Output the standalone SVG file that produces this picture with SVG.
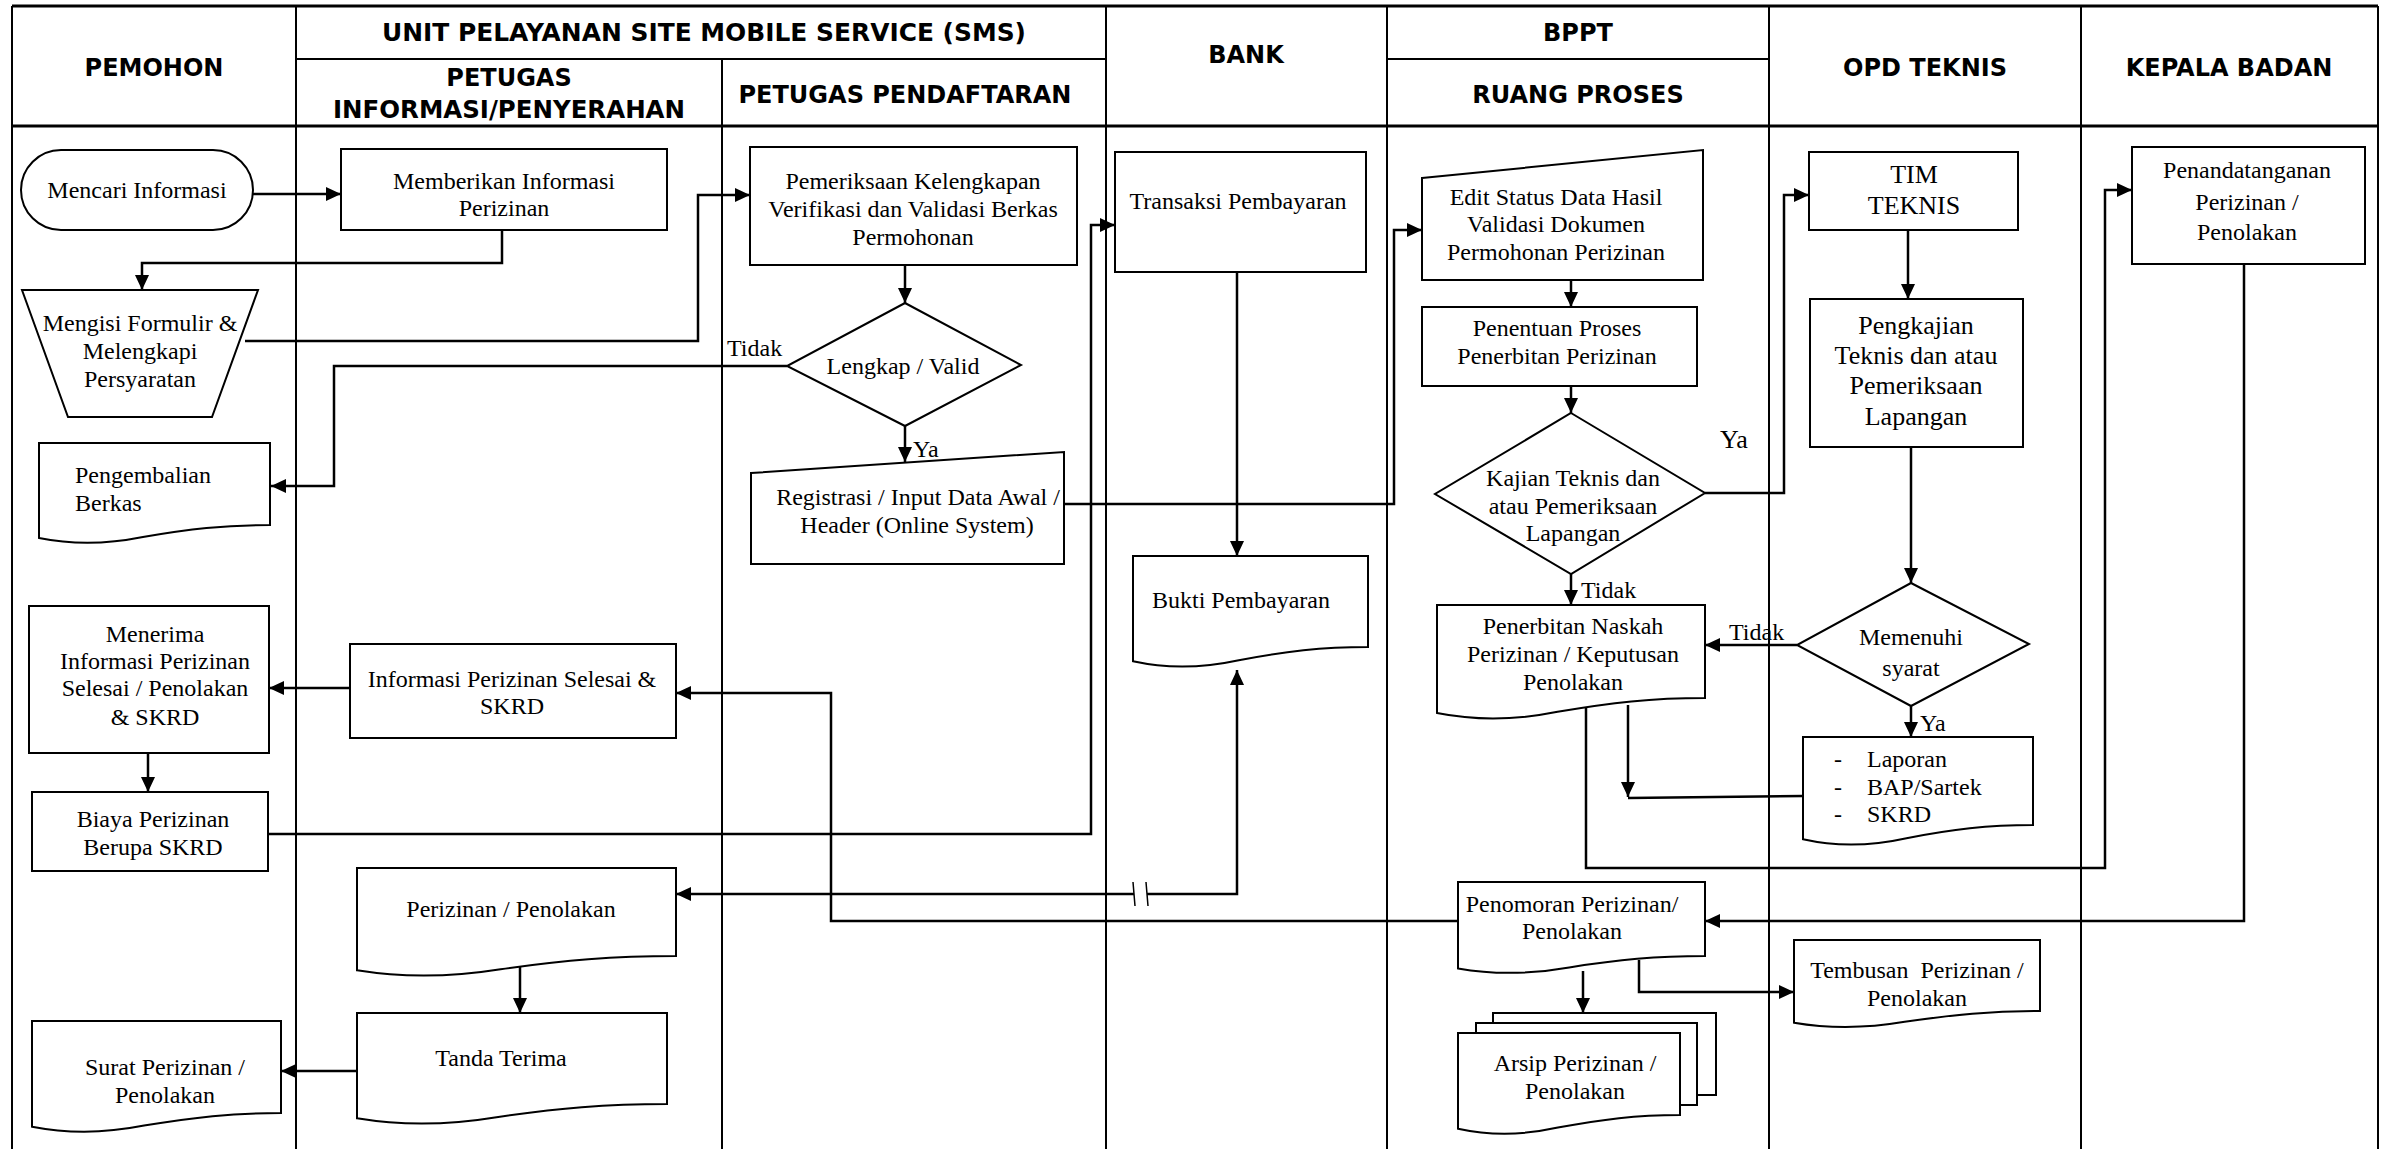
<svg xmlns="http://www.w3.org/2000/svg" width="2389" height="1149" viewBox="0 0 2389 1149">
<style>
.bg{fill:#fff}
.lane{stroke:#000;stroke-width:2;fill:none}
.hl{stroke:#000;stroke-width:3;fill:none}
.h{font-family:"DejaVu Sans",Verdana,sans-serif;font-weight:bold;font-size:24px;text-anchor:middle;fill:#000}
.t{font-family:"Liberation Serif","Times New Roman",serif;font-size:24px;text-anchor:middle;fill:#000}
.tl{font-family:"Liberation Serif","Times New Roman",serif;font-size:24px;text-anchor:start;fill:#000}
.big{font-size:26px}
.s{fill:#fff;stroke:#000;stroke-width:2}
.c{fill:none;stroke:#000;stroke-width:2.5;marker-end:url(#ah)}
.cn{fill:none;stroke:#000;stroke-width:2.5}
.tick{fill:none;stroke:#000;stroke-width:1.5}
</style>
<defs>
<marker id="ah" markerUnits="userSpaceOnUse" markerWidth="16" markerHeight="14" refX="15" refY="7" orient="auto">
<path d="M0,0 L15,7 L0,14 Z" fill="#000"/>
</marker>
</defs>
<rect class="bg" x="0" y="0" width="2389" height="1149"/>

<g id="lanes">
<path class="hl" d="M12,6 H2378"/>
<path class="lane" d="M12,6 V1149 M296,6 V1149 M1106,6 V1149 M1387,6 V1149 M1769,6 V1149 M2081,6 V1149 M2378,6 V1149 M722,59 V1149"/>
<path class="lane" d="M296,59 H1106 M1387,59 H1769"/>
<path class="hl" d="M12,126 H2378"/>
<text class="h" x="154" y="76">PEMOHON</text>
<text class="h" x="704" y="41" textLength="644" lengthAdjust="spacingAndGlyphs">UNIT PELAYANAN SITE MOBILE SERVICE (SMS)</text>
<text class="h" x="509" y="86">PETUGAS</text>
<text class="h" x="509" y="118" textLength="352" lengthAdjust="spacingAndGlyphs">INFORMASI/PENYERAHAN</text>
<text class="h" x="905" y="103">PETUGAS PENDAFTARAN</text>
<text class="h" x="1246" y="63">BANK</text>
<text class="h" x="1578" y="41">BPPT</text>
<text class="h" x="1578" y="103">RUANG PROSES</text>
<text class="h" x="1925" y="76">OPD TEKNIS</text>
<text class="h" x="2229" y="76">KEPALA BADAN</text>
</g>

<g id="connectors">
<path class="c" d="M253,194 H341"/>
<path class="c" d="M502,230 V263 H142 V290"/>
<path class="c" d="M245,341 H698 V195 H750"/>
<path class="c" d="M905,265 V303"/>
<path class="c" d="M787,366 H334 V486 H271"/>
<path class="c" d="M905,426 V462"/>
<path class="c" d="M1065,504 H1394 V230 H1422"/>
<path class="c" d="M268,834 H1091 V225 H1115"/>
<path class="c" d="M1237,272 V556"/>
<path class="c" d="M1134,894 H676"/>
<path class="c" d="M1147,894 H1237 V670"/>
<path class="tick" d="M1133,882 L1135,906 M1146,882 L1148,906"/>
<path class="c" d="M1571,280 V307"/>
<path class="c" d="M1571,386 V413"/>
<path class="c" d="M1705,493 H1784 V195 H1809"/>
<path class="c" d="M1908,230 V299"/>
<path class="c" d="M1911,447 V583"/>
<path class="c" d="M1797,645 H1705"/>
<path class="c" d="M1911,706 V737"/>
<path class="c" d="M1571,574 V605"/>
<path class="c" d="M1628,705 V797"/>
<path class="cn" d="M1803,796 L1628,798"/>
<path class="c" d="M1586,708 V868 H2105 V190 H2132"/>
<path class="c" d="M2244,264 V921 H1705"/>
<path class="c" d="M1458,921 H831 V693 H676"/>
<path class="c" d="M1583,971 V1013"/>
<path class="c" d="M1639,960 V992 H1794"/>
<path class="c" d="M350,688 H269"/>
<path class="c" d="M148,753 V792"/>
<path class="c" d="M520,967 V1013"/>
<path class="c" d="M357,1071 H281"/>
<text class="tl" x="727" y="356">Tidak</text>
<text class="tl" x="913" y="457">Ya</text>
<text class="tl big" x="1720" y="448">Ya</text>
<text class="tl" x="1581" y="598">Tidak</text>
<text class="tl" x="1729" y="640">Tidak</text>
<text class="tl" x="1920" y="731">Ya</text>
</g>

<g id="mencari-informasi">
<rect class="s" x="21" y="150" width="232" height="80" rx="40" ry="40"/>
<text class="t" x="137" y="198">Mencari Informasi</text>
</g>
<g id="memberikan-informasi">
<rect class="s" x="341" y="149" width="326" height="81"/>
<text class="t" x="504" y="189">Memberikan Informasi</text>
<text class="t" x="504" y="216">Perizinan</text>
</g>
<g id="mengisi-formulir">
<path class="s" d="M22,290 H258 L212,417 H68 Z"/>
<text class="t" x="140" y="331">Mengisi Formulir &amp;</text>
<text class="t" x="140" y="359">Melengkapi</text>
<text class="t" x="140" y="387">Persyaratan</text>
</g>
<g id="pengembalian-berkas">
<path class="s" d="M39,443 H270 V525 C223.8,525 189.2,529 142.9,537 C108.3,544 73.7,545 39,538 Z"/>
<text class="tl" x="75" y="483">Pengembalian</text>
<text class="tl" x="75" y="511">Berkas</text>
</g>
<g id="pemeriksaan">
<rect class="s" x="750" y="147" width="327" height="118"/>
<text class="t" x="913" y="189">Pemeriksaan Kelengkapan</text>
<text class="t" x="913" y="217">Verifikasi dan Validasi Berkas</text>
<text class="t" x="913" y="245">Permohonan</text>
</g>
<g id="lengkap-valid">
<path class="s" d="M905,303 L1021,365 L905,426 L787,366 Z"/>
<text class="t" x="903" y="374">Lengkap / Valid</text>
</g>
<g id="registrasi">
<path class="s" d="M751,473 L1064,452 V564 H751 Z"/>
<text class="t" x="918" y="505">Registrasi / Input Data Awal /</text>
<text class="t" x="917" y="533">Header (Online System)</text>
</g>
<g id="transaksi-pembayaran">
<rect class="s" x="1115" y="152" width="251" height="120"/>
<text class="t" x="1238" y="209">Transaksi Pembayaran</text>
</g>
<g id="bukti-pembayaran">
<path class="s" d="M1133,556 H1368 V647 C1321,647 1285.8,651.4 1238.8,660.2 C1203.5,667.9 1168.3,669 1133,661.3 Z"/>
<text class="t" x="1241" y="608">Bukti Pembayaran</text>
</g>
<g id="edit-status">
<path class="s" d="M1422,178 L1703,150 V280 H1422 Z"/>
<text class="t" x="1556" y="205">Edit Status Data Hasil</text>
<text class="t" x="1556" y="232">Validasi Dokumen</text>
<text class="t" x="1556" y="260">Permohonan Perizinan</text>
</g>
<g id="penentuan-proses">
<rect class="s" x="1422" y="307" width="275" height="79"/>
<text class="t" x="1557" y="336">Penentuan Proses</text>
<text class="t" x="1557" y="364">Penerbitan Perizinan</text>
</g>
<g id="kajian-teknis">
<path class="s" d="M1571,413 L1705,493 L1571,574 L1435,494 Z"/>
<text class="t" x="1573" y="486">Kajian Teknis dan</text>
<text class="t" x="1573" y="514">atau Pemeriksaan</text>
<text class="t" x="1573" y="541">Lapangan</text>
</g>
<g id="tim-teknis">
<rect class="s" x="1809" y="152" width="209" height="78"/>
<text class="t big" x="1914" y="183">TIM</text>
<text class="t big" x="1914" y="214">TEKNIS</text>
</g>
<g id="pengkajian">
<rect class="s" x="1810" y="299" width="213" height="148"/>
<text class="t big" x="1916" y="334">Pengkajian</text>
<text class="t big" x="1916" y="364">Teknis dan atau</text>
<text class="t big" x="1916" y="394">Pemeriksaan</text>
<text class="t big" x="1916" y="425">Lapangan</text>
</g>
<g id="memenuhi-syarat">
<path class="s" d="M1911,583 L2029,644 L1911,706 L1797,645 Z"/>
<text class="t" x="1911" y="645">Memenuhi</text>
<text class="t" x="1911" y="676">syarat</text>
</g>
<g id="penerbitan-naskah">
<path class="s" d="M1437,605 H1705 V698 C1651.4,698 1611.2,702.6 1557.6,711.8 C1517.4,719.9 1477.2,721 1437,713 Z"/>
<text class="t" x="1573" y="634">Penerbitan Naskah</text>
<text class="t" x="1573" y="662">Perizinan / Keputusan</text>
<text class="t" x="1573" y="690">Penolakan</text>
</g>
<g id="laporan">
<path class="s" d="M1803,737 H2033 V825 C1987,825 1952.5,829.4 1906.5,838.2 C1872,845.9 1837.5,847 1803,839.3 Z"/>
<text class="tl" x="1834" y="767">-</text>
<text class="tl" x="1867" y="767">Laporan</text>
<text class="tl" x="1834" y="795">-</text>
<text class="tl" x="1867" y="795">BAP/Sartek</text>
<text class="tl" x="1834" y="822">-</text>
<text class="tl" x="1867" y="822">SKRD</text>
</g>
<g id="penandatanganan">
<rect class="s" x="2132" y="147" width="233" height="117"/>
<text class="t" x="2247" y="178">Penandatanganan</text>
<text class="t" x="2247" y="210">Perizinan /</text>
<text class="t" x="2247" y="240">Penolakan</text>
</g>
<g id="penomoran">
<path class="s" d="M1458,882 H1705 V956 C1655.6,956 1618.6,959.8 1569.2,967.4 C1532.1,974 1495,975 1458,968.4 Z"/>
<text class="t" x="1572" y="912">Penomoran Perizinan/</text>
<text class="t" x="1572" y="939">Penolakan</text>
</g>
<g id="tembusan">
<path class="s" d="M1794,940 H2040 V1011 C1990.8,1011 1953.9,1014.6 1904.7,1021.8 C1867.8,1028.1 1830.9,1029 1794,1022.7 Z"/>
<text class="t" x="1917" y="978" xml:space="preserve">Tembusan  Perizinan /</text>
<text class="t" x="1917" y="1006">Penolakan</text>
</g>
<g id="arsip">
<rect class="s" x="1493" y="1013" width="223" height="82"/>
<rect class="s" x="1476" y="1023" width="221" height="82"/>
<path class="s" d="M1458,1033 H1680 V1115 C1635.6,1115 1602.3,1119.2 1557.9,1127.6 C1524.6,1135 1491.3,1136 1458,1128.7 Z"/>
<text class="t" x="1575" y="1071">Arsip Perizinan /</text>
<text class="t" x="1575" y="1099">Penolakan</text>
</g>
<g id="menerima-informasi">
<rect class="s" x="29" y="606" width="240" height="147"/>
<text class="t" x="155" y="642">Menerima</text>
<text class="t" x="155" y="669">Informasi Perizinan</text>
<text class="t" x="155" y="696">Selesai / Penolakan</text>
<text class="t" x="155" y="725">&amp; SKRD</text>
</g>
<g id="informasi-selesai">
<rect class="s" x="350" y="644" width="326" height="94"/>
<text class="t" x="512" y="687">Informasi Perizinan Selesai &amp;</text>
<text class="t" x="512" y="714">SKRD</text>
</g>
<g id="biaya-perizinan">
<rect class="s" x="32" y="792" width="236" height="79"/>
<text class="t" x="153" y="827">Biaya Perizinan</text>
<text class="t" x="153" y="855">Berupa SKRD</text>
</g>
<g id="perizinan-penolakan">
<path class="s" d="M357,868 H676 V956 C612.2,956 564.4,960.4 500.6,969.2 C452.7,976.9 404.9,978 357,970.3 Z"/>
<text class="t" x="511" y="917">Perizinan / Penolakan</text>
</g>
<g id="tanda-terima">
<path class="s" d="M357,1013 H667 V1104 C605,1104 558.5,1108.4 496.5,1117.2 C450,1124.9 403.5,1126 357,1118.3 Z"/>
<text class="t" x="501" y="1066">Tanda Terima</text>
</g>
<g id="surat-perizinan">
<path class="s" d="M32,1021 H281 V1113 C231.2,1113 193.9,1117.2 144.1,1125.6 C106.7,1133 69.4,1134 32,1126.7 Z"/>
<text class="t" x="165" y="1075">Surat Perizinan /</text>
<text class="t" x="165" y="1103">Penolakan</text>
</g>
</svg>
